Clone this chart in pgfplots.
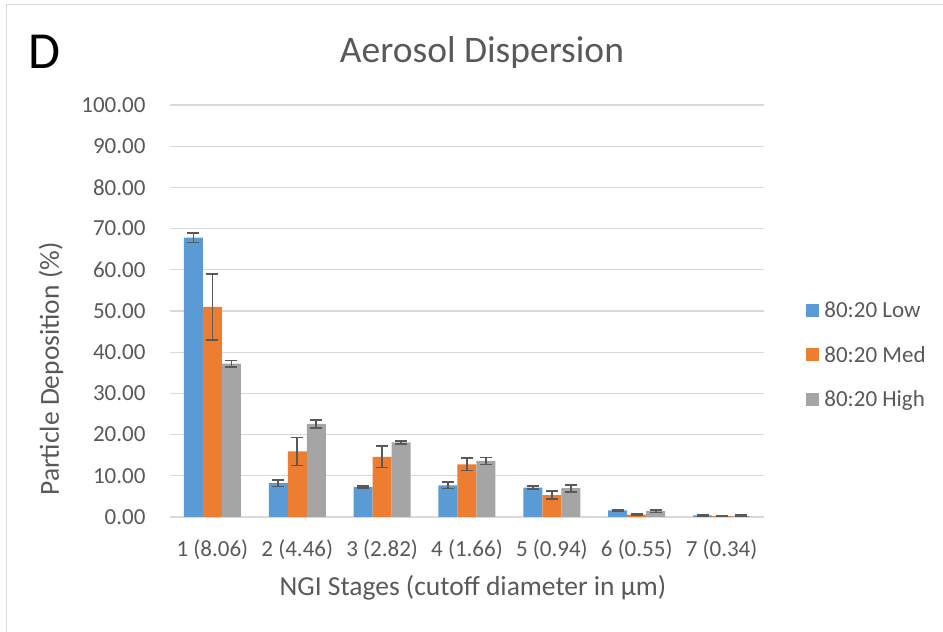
\documentclass[border=0pt]{standalone}
\usepackage{pgfplots}
\pgfplotsset{compat=1.18}
\usepackage{pgfplotstable}
\usepackage{fontspec}
\setmainfont{Carlito}
\definecolor{cblue}{HTML}{5B9BD5}
\definecolor{corange}{HTML}{ED7D31}
\definecolor{cgray}{HTML}{A5A5A5}
\definecolor{ctext}{HTML}{595959}
\definecolor{cgrid}{HTML}{D9D9D9}
\definecolor{cerr}{HTML}{595959}
\pgfplotstableread{
x y e
0 67.8 1.2
1 8.2 0.8
2 7.3 0.3
3 7.7 0.8
4 7.1 0.35
5 1.6 0.2
6 0.4 0.1
}\low
\pgfplotstableread{
x y e
0 51.0 8.0
1 15.9 3.4
2 14.6 2.6
3 12.8 1.5
4 5.3 0.95
5 0.6 0.15
6 0.2 0.1
}\med
\pgfplotstableread{
x y e
0 37.2 0.8
1 22.6 1.0
2 18.1 0.4
3 13.6 0.85
4 7.0 0.85
5 1.4 0.3
6 0.3 0.1
}\high
\begin{document}
\begin{tikzpicture}[x=1pt,y=1pt]
\useasboundingbox (0,0) rectangle (943,632);
\draw[cgrid, line width=1pt] (6,0) -- (6,627) -- (943,627);
\begin{axis}[
  at={(170pt,115pt)}, anchor=south west,
  scale only axis, width=594pt, height=412pt,
  xmin=-0.5, xmax=6.5, ymin=0, ymax=100,
  axis line style={draw=none},
  ytick={0,10,...,100},
  ymajorgrids, grid style={cgrid, line width=1.3pt},
  major tick length=0pt,
  xtick={0,...,6},
  xticklabels={1 (8.06),2 (4.46),3 (2.82),4 (1.66),5 (0.94),6 (0.55),7 (0.34)},
  /pgf/number format/.cd, fixed, fixed zerofill, precision=2, assume math mode=true,
  /pgfplots/.cd,
  ticklabel style={font=\fontsize{23}{27}\selectfont, text=ctext},
  yticklabel style={xshift=-21pt},
  xticklabel style={yshift=-19pt},
  ybar=0pt, bar width=19pt,
  legend style={at={(1.066,0.393)}, anchor=west, draw=none, fill=none,
    font=\fontsize{23}{27}\selectfont, text=ctext,
    row sep=23pt, cells={anchor=west},
    /tikz/every even column/.append style={column sep=2pt}},
  legend image code/.code={\fill[#1,draw=none] (0pt,-6.5pt) rectangle (13pt,6.5pt);},
  error bars/error bar style={cerr, line width=1.7pt},
  error bars/error mark options={cerr, rotate=90, mark size=6pt, line width=1.7pt},
]
\addplot[fill=cblue, draw=none, error bars/.cd, y dir=both, y explicit] table[x=x,y=y,y error=e]{\low};
\addplot[fill=corange, draw=none, error bars/.cd, y dir=both, y explicit] table[x=x,y=y,y error=e]{\med};
\addplot[fill=cgray, draw=none, error bars/.cd, y dir=both, y explicit] table[x=x,y=y,y error=e]{\high};
\legend{\hspace{3pt}80:20 Low,\hspace{3pt}80:20 Med,\hspace{3pt}80:20 High}
\end{axis}
\node[text=ctext, font=\fontsize{37.5}{42}\selectfont] at (482,579) {Aerosol Dispersion};
\node[text=ctext, font=\fontsize{27.5}{32}\selectfont] at (473,44) {NGI Stages (cutoff diameter in µm)};
\node[text=ctext, font=\fontsize{27.5}{32}\selectfont, rotate=90] at (51,263) {Particle Deposition (\%)};
\node[text=black, font=\fontsize{52}{56}\selectfont] at (44,580) {D};
\end{tikzpicture}
\end{document}
